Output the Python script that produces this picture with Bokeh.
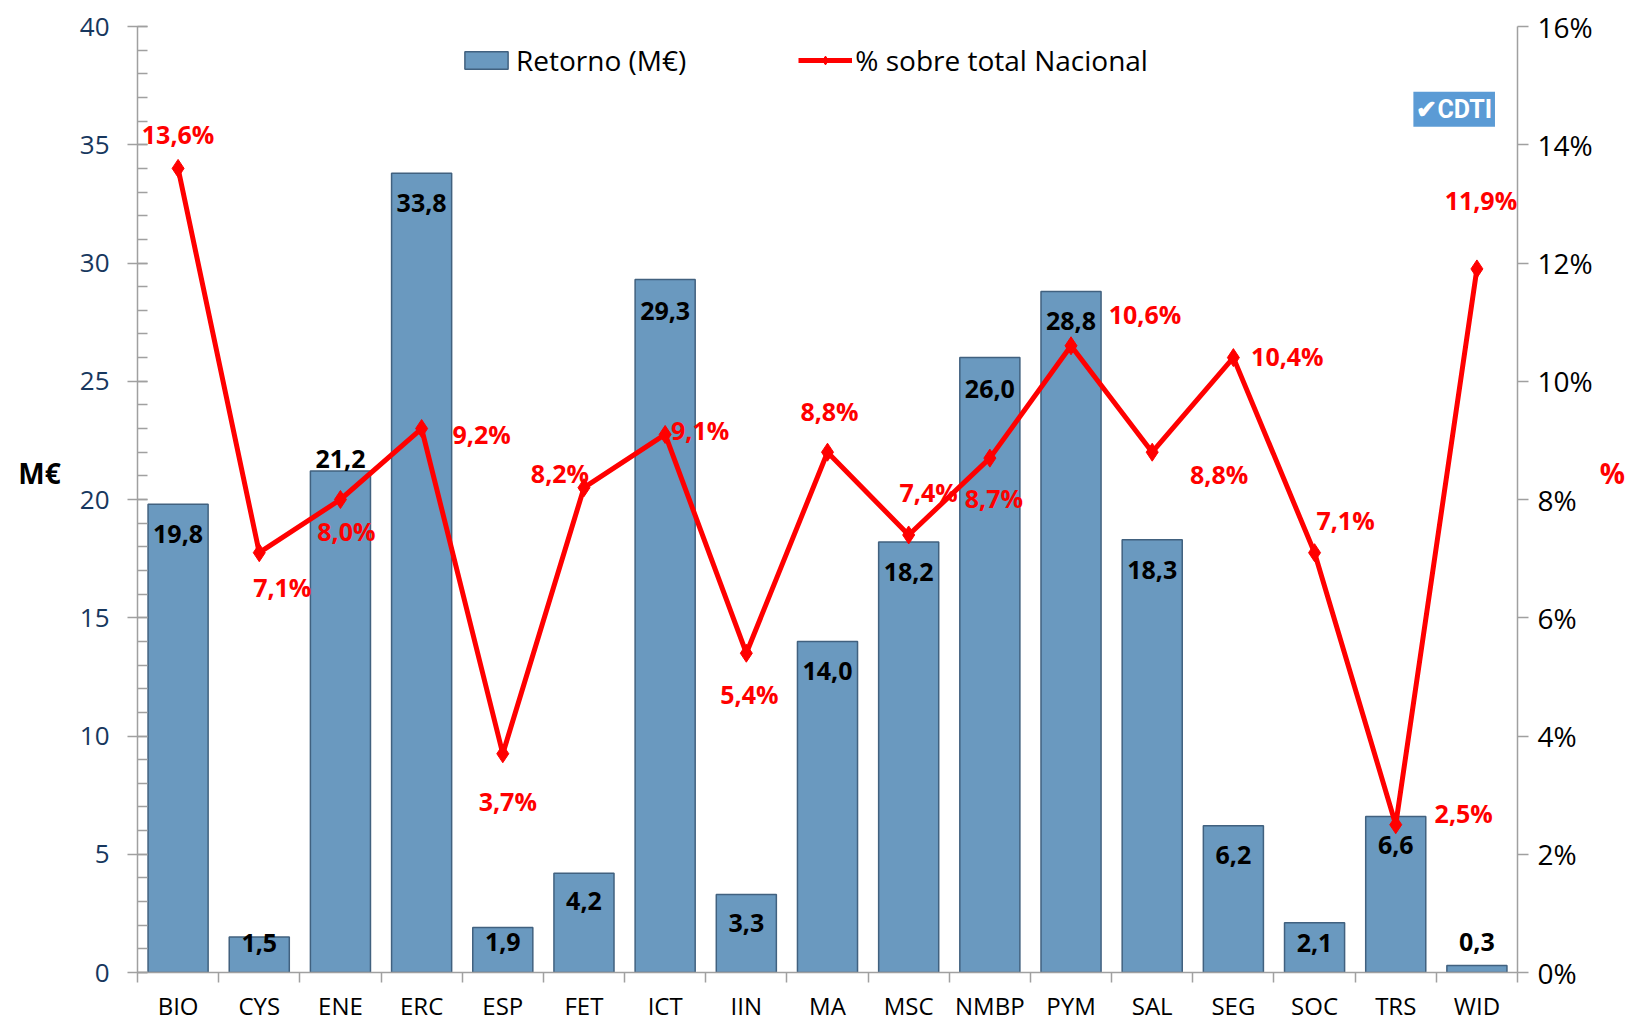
from bokeh.plotting import figure
from bokeh.models import (ColumnDataSource, Range1d, LinearAxis, SingleIntervalTicker, FixedTicker,
                          CustomJSTickFormatter, PrintfTickFormatter, Legend, LegendItem, LabelSet,
                          Label)
from bokeh.core.properties import value
from bokeh.embed import file_html
from bokeh.resources import INLINE

# ---------------- data ----------------
categories = ["BIO", "CYS", "ENE", "ERC", "ESP", "FET", "ICT", "IIN", "MA", "MSC",
              "NMBP", "PYM", "SAL", "SEG", "SOC", "TRS", "WID"]
retorno = [19.8, 1.5, 21.2, 33.8, 1.9, 4.2, 29.3, 3.3, 14.0, 18.2,
           26.0, 28.8, 18.3, 6.2, 2.1, 6.6, 0.3]
pct_nacional = [13.6, 7.1, 8.0, 9.2, 3.7, 8.2, 9.1, 5.4, 8.8, 7.4,
                8.7, 10.6, 8.8, 10.4, 7.1, 2.5, 11.9]
series_bar_name = "Retorno (M€)"
series_line_name = "% sobre total Nacional"

# ---------------- label placement (screen px, up positive) ----------------
bar_lbl_dy = [-30, -6, 12, -30, -14, -28, -31, -29, -30, -30, -31, -30, -30, -29, -20, -29, 23]
pct_lbl_dx = [0, 23, 6, 60, 5, -24, 35, 3, 2, 20, 4, 74, 67, 54, 31, 68, 4]
pct_lbl_dy = [34, -34, -31, -5, -47, 15, 4, -41, 41, 43, -40, 32, -22, 2, 33, 12, 69]


def es(v, suffix=""):
    return f"{v:.1f}".replace(".", ",") + suffix


FONT = "Open Sans"
AXIS_GRAY = "#a0a0a0"
n = len(categories)
slot = [i + 0.5 for i in range(n)]   # centre of each category slot

src = ColumnDataSource(dict(
    x=slot, cat=categories, val=retorno, pct=pct_nacional,
    bar_lbl=[es(v) for v in retorno], pct_lbl=[es(v, "%") for v in pct_nacional],
    bdy=bar_lbl_dy, ldx=pct_lbl_dx, ldy=pct_lbl_dy,
))

p = figure(width=1630, height=1024, x_range=Range1d(0, n), y_range=Range1d(0, 40),
           output_backend="svg", toolbar_location=None, x_axis_location=None, y_axis_location=None,
           min_border_left=137, min_border_right=113, min_border_top=26, min_border_bottom=49)
p.outline_line_color = None
p.background_fill_color = "white"
p.border_fill_color = "white"
for g in p.grid:
    g.visible = False

p.extra_y_ranges = {"pct": Range1d(0, 16)}

# left axis
yl = LinearAxis(ticker=SingleIntervalTicker(interval=5, num_minor_ticks=5),
                axis_label="M€\n ")
yl.axis_line_color = AXIS_GRAY
yl.axis_line_width = 1.5
yl.major_tick_line_color = AXIS_GRAY
yl.minor_tick_line_color = AXIS_GRAY
yl.major_tick_line_width = 1.5
yl.minor_tick_line_width = 1.5
yl.major_tick_in = 10
yl.major_tick_out = 10
yl.minor_tick_in = 10
yl.minor_tick_out = 0
yl.major_label_standoff = 18
yl.major_label_text_font = FONT
yl.major_label_text_font_size = "26px"
yl.major_label_text_color = "#17375e"
yl.axis_label_orientation = "horizontal"
yl.axis_label_standoff = 16
yl.axis_label_text_font = FONT
yl.axis_label_text_font_style = "bold"
yl.axis_label_text_font_size = "28px"
yl.axis_label_text_color = "black"
yl.axis_label_text_line_height = 1.4
p.add_layout(yl, "left")

# right axis
yr = LinearAxis(y_range_name="pct", ticker=SingleIntervalTicker(interval=2, num_minor_ticks=0),
                formatter=PrintfTickFormatter(format="%d%%"), axis_label="%\n ")
yr.axis_line_color = AXIS_GRAY
yr.axis_line_width = 1.5
yr.major_tick_line_color = AXIS_GRAY
yr.major_tick_line_width = 1.5
yr.major_tick_in = 0
yr.major_tick_out = 11
yr.minor_tick_line_color = None
yr.major_label_standoff = 9
yr.major_label_text_font = FONT
yr.major_label_text_font_size = "28px"
yr.major_label_text_color = "black"
yr.axis_label_orientation = "horizontal"
yr.axis_label_standoff = 4
yr.axis_label_text_font = FONT
yr.axis_label_text_font_style = "bold"
yr.axis_label_text_font_size = "28px"
yr.axis_label_text_color = "#ff0000"
yr.axis_label_text_line_height = 1.4
p.add_layout(yr, "right")

# bottom axis: labels centred on categories, ticks on boundaries
xb = LinearAxis(ticker=FixedTicker(ticks=slot, minor_ticks=list(range(n + 1))),
                formatter=CustomJSTickFormatter(args=dict(cats=categories),
                                                code="return cats[Math.floor(tick)] || '';"))
xb.axis_line_color = AXIS_GRAY
xb.axis_line_width = 1.5
xb.major_tick_line_color = None
xb.major_tick_in = 0
xb.major_tick_out = 0
xb.minor_tick_line_color = AXIS_GRAY
xb.minor_tick_line_width = 1.5
xb.minor_tick_in = 0
xb.minor_tick_out = 10
xb.major_label_standoff = 6
xb.major_label_text_font = FONT
xb.major_label_text_font_size = "24px"
xb.major_label_text_color = "black"
p.add_layout(xb, "below")

# bars
bars = p.vbar(x="x", top="val", width=0.74, source=src,
              fill_color="#6a99bf", line_color="#41617f", line_width=1.5)

# line
line = p.line(x="x", y="pct", y_range_name="pct", source=src, line_color="#ff0000", line_width=5)
marks = p.scatter(x="x", y="pct", y_range_name="pct", source=src, marker="diamond", size=18,
                  fill_color="#ff0000", line_color="#ff0000")

# data labels
bar_labels = LabelSet(x="x", y="val", text="bar_lbl", source=src, y_offset="bdy",
                      text_align="center", text_baseline="middle", text_font=value(FONT),
                      text_font_style="bold", text_font_size="25px", text_color="black")
p.add_layout(bar_labels)

pct_labels = LabelSet(x="x", y="pct", text="pct_lbl", source=src, y_range_name="pct",
                      x_offset="ldx", y_offset="ldy",
                      text_align="center", text_baseline="middle", text_font=value(FONT),
                      text_font_style="bold", text_font_size="25px", text_color="#ff0000")
p.add_layout(pct_labels)

# CDTI logo
p.add_layout(Label(x=16.22, y=36.5, text="✔CDTI", text_align="center", text_baseline="middle",
                   text_font="Roboto", text_font_style="bold", text_font_size="25px",
                   text_color="white", background_fill_color="#5b9bd5", padding=3))

# legend
legend = Legend(items=[LegendItem(label=series_bar_name, renderers=[bars]),
                       LegendItem(label=series_line_name, renderers=[line, marks])],
                orientation="horizontal", location=(322, 893),
                border_line_color=None, background_fill_alpha=0,
                label_text_font=FONT, label_text_font_size="28px", label_text_color="black",
                glyph_width=54, glyph_height=22, spacing=112, label_standoff=3,
                padding=0, margin=0)
p.add_layout(legend, "center")

open("out.html", "w").write(file_html(p, INLINE))
